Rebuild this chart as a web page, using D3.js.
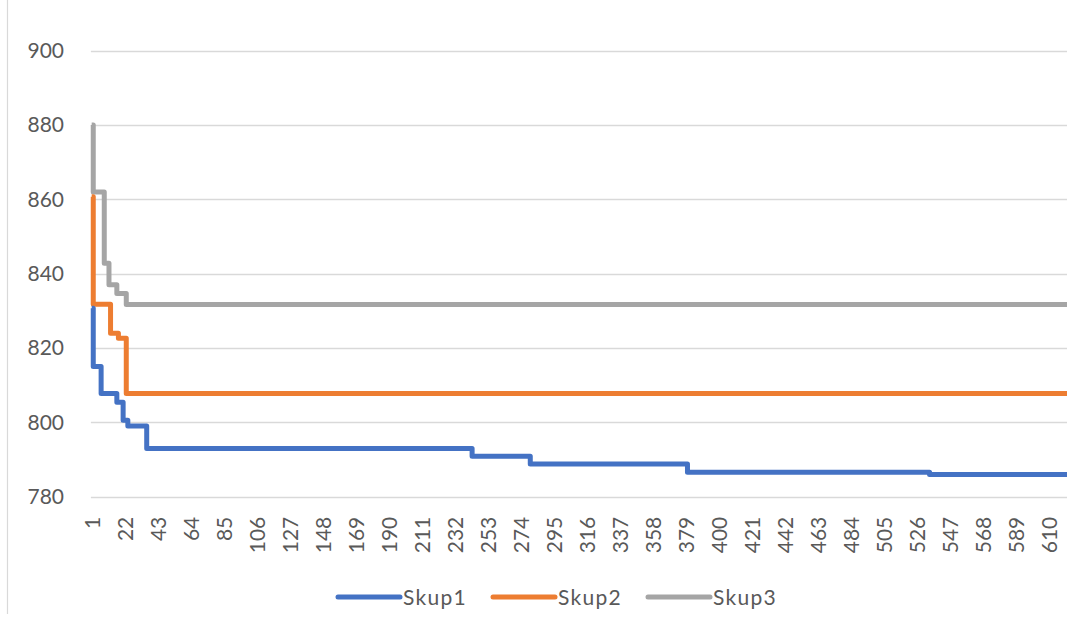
<!DOCTYPE html>
<html>
<head>
<meta charset="utf-8">
<script src="https://cdn.jsdelivr.net/npm/d3@7/dist/d3.min.js"></script>
<style>
  html, body { margin: 0; padding: 0; background: #ffffff; }
  svg { display: block; }
</style>
</head>
<body>
<svg id="chart" width="1067" height="622"></svg>
<script>
// ---------- data ----------
const categoryCount = 622;
const xTickLabels = [1, 22, 43, 64, 85, 106, 127, 148, 169, 190, 211, 232, 253, 274, 295, 316, 337, 358, 379, 400, 421, 442, 463, 484, 505, 526, 547, 568, 589, 610];
const yTickValues = [780, 800, 820, 840, 860, 880, 900];
const seriesNames = ["Skup1", "Skup2", "Skup3"];
// step change points: [iteration, value from that iteration on]
const skup1Steps = [[1, 830.7], [2, 815.0], [7, 807.8], [17, 805.4], [21, 800.6], [24, 799.0], [36, 793.0], [243, 790.9], [280, 788.8], [380, 786.6], [534, 786.0], [622, 786.0]];
const skup2Steps = [[1, 860.7], [2, 831.8], [13, 824.0], [18, 822.6], [23, 807.8], [622, 807.8]];
const skup3Steps = [[1, 880.0], [2, 862.0], [9, 842.8], [12, 837.0], [17, 834.7], [23, 831.7], [622, 831.7]];

// ---------- layout ----------
const W = 1067, H = 622;
const plotLeft = 90.9, band = 1.572;
const plotRight = plotLeft + categoryCount * band;
const plotTop = 50.7, plotBottom = 496.7;
const colors = ["#4472C4", "#ED7D31", "#A5A5A5"];
const textColor = "#595959";
const fontFamily = "Lato, 'Open Sans', 'Liberation Sans', sans-serif";
const fontSize = "21px";

const svg = d3.select("#chart");

svg.append("rect").attr("x", 0).attr("y", 0).attr("width", W).attr("height", H).attr("fill", "#ffffff");
// chart border (left edge visible)
svg.append("line").attr("x1", 7.5).attr("x2", 7.5).attr("y1", 0).attr("y2", 614)
  .attr("stroke", "#d9d9d9").attr("stroke-width", 1.2);

const x = d3.scaleLinear().domain([0.5, categoryCount + 0.5]).range([plotLeft, plotRight]);
const y = d3.scaleLinear().domain([780, 900]).range([plotBottom, plotTop]);

// gridlines
svg.append("g").selectAll("line").data(yTickValues).join("line")
  .attr("x1", plotLeft).attr("x2", plotRight)
  .attr("y1", d => Math.round(y(d)) + 0.5).attr("y2", d => Math.round(y(d)) + 0.5)
  .attr("stroke", "#d9d9d9").attr("stroke-width", 1.3);

// y axis labels
const yAxis = d3.axisLeft(y).tickValues(yTickValues).tickSize(0).tickPadding(0).tickFormat(d3.format("d"));
const gy = svg.append("g").attr("transform", `translate(64,0)`).call(yAxis);
gy.select(".domain").remove();
gy.selectAll("text").attr("fill", textColor).style("font-family", fontFamily).style("font-size", fontSize);

// x axis labels (rotated)
const xAxis = d3.axisBottom(x).tickValues(xTickLabels).tickSize(0).tickPadding(0).tickFormat(d3.format("d"));
const gx = svg.append("g").attr("transform", `translate(0,${plotBottom})`).call(xAxis);
gx.select(".domain").remove();
gx.selectAll("text")
  .attr("fill", textColor).style("font-family", fontFamily).style("font-size", fontSize)
  .attr("text-anchor", "end")
  .attr("transform", "rotate(-90)")
  .attr("x", -20).attr("y", 0).attr("dy", "0.36em");

// lines
const line = d3.line().x(d => x(d[0])).y(d => y(d[1])).curve(d3.curveStepAfter);
const allSeries = [skup1Steps, skup2Steps, skup3Steps];
svg.append("clipPath").attr("id", "plotclip").append("rect")
  .attr("x", plotLeft - 5).attr("y", 0).attr("width", plotRight - plotLeft + 10).attr("height", H);
svg.append("g").attr("clip-path", "url(#plotclip)")
  .selectAll("path").data([2, 1, 0]).join("path")
  .attr("d", i => line(allSeries[i]))
  .attr("fill", "none")
  .attr("stroke", i => colors[i])
  .attr("stroke-width", 5)
  .attr("stroke-linejoin", "round");

// legend
const legendX = [338, 493, 648];
const legendY = 597;
const lg = svg.append("g").selectAll("g").data(seriesNames).join("g")
  .attr("transform", (d, i) => `translate(${legendX[i]},${legendY})`);
lg.append("line").attr("x1", 0).attr("x2", 62).attr("y1", 0).attr("y2", 0)
  .attr("stroke", (d, i) => colors[i]).attr("stroke-width", 5).attr("stroke-linecap", "round");
lg.append("text").attr("x", 65).attr("y", 0).attr("dy", "0.36em")
  .attr("fill", textColor).style("font-family", fontFamily).style("font-size", fontSize)
  .attr("letter-spacing", "1.3px")
  .text(d => d);
</script>
</body>
</html>
